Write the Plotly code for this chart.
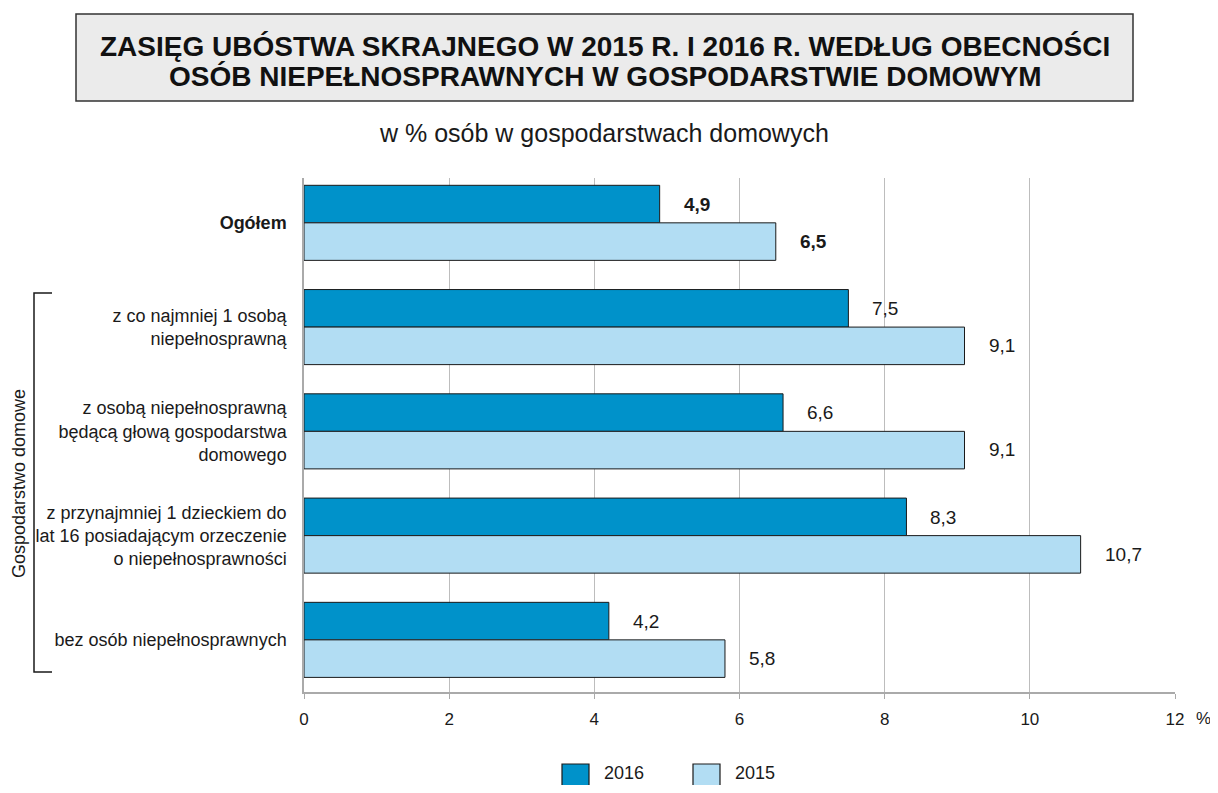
import plotly.graph_objects as go

categories = [
    "<b>Ogółem</b>",
    "z co najmniej 1 osobą<br>niepełnosprawną",
    "z osobą niepełnosprawną<br>będącą głową gospodarstwa<br>domowego",
    "z przynajmniej 1 dzieckiem do<br>lat 16 posiadającym orzeczenie<br>o niepełnosprawności",
    "bez osób niepełnosprawnych",
]
series_names = ["2016", "2015"]
values_2016 = [4.9, 7.5, 6.6, 8.3, 4.2]
values_2015 = [6.5, 9.1, 9.1, 10.7, 5.8]
x_ticks = [0, 2, 4, 6, 8, 10, 12]
title_lines = ["ZASIĘG UBÓSTWA SKRAJNEGO W 2015 R. I 2016 R. WEDŁUG OBECNOŚCI",
               "OSÓB NIEPEŁNOSPRAWNYCH W GOSPODARSTWIE DOMOWYM"]

C2016 = "#0092ca"
C2015 = "#b2ddf3"
EDGE = "#1a1a1a"
FONT = "Liberation Sans, Arial, sans-serif"

# page body has an 8px margin; reference pixel coords are used below
OFF = 8
W, H = 1218 - 2 * OFF, 793 - 2 * OFF
L, R, T, B = 304, 1175, 178, 692


def px(x):
    return (x - L) / (R - L)


def py(y):
    return (B - y) / (B - T)


fig = go.Figure()
fig.add_trace(go.Bar(y=categories, x=values_2016, name=series_names[0], orientation="h",
                     marker=dict(color=C2016, line=dict(color=EDGE, width=1))))
fig.add_trace(go.Bar(y=categories, x=values_2015, name=series_names[1], orientation="h",
                     marker=dict(color=C2015, line=dict(color=EDGE, width=1))))

annotations = []
for i, (cat, a, b) in enumerate(zip(categories, values_2016, values_2015)):
    for v, shift in ((a, 18.5), (b, -18.5)):
        txt = f"{v:.1f}".replace(".", ",")
        if i == 0:
            txt = f"<b>{txt}</b>"
        annotations.append(dict(x=v, y=cat, xref="x", yref="y", text=txt, showarrow=False,
                                xanchor="left", xshift=22, yshift=shift,
                                font=dict(family=FONT, size=19, color=EDGE)))

annotations.append(dict(x=px(1194), y=py(718), xref="paper", yref="paper", text="%",
                        showarrow=False, xanchor="left", yanchor="middle",
                        font=dict(family=FONT, size=17, color=EDGE)))
for line, yy in zip(title_lines, (46, 76)):
    annotations.append(dict(x=px(605), y=py(yy), xref="paper", yref="paper",
                            text=f"<b>{line}</b>",
                            showarrow=False, xanchor="center", yanchor="middle",
                            font=dict(family=FONT, size=28, color="#111")))
annotations.append(dict(x=px(604), y=py(133), xref="paper", yref="paper",
                        text="w % osób w gospodarstwach domowych", showarrow=False,
                        xanchor="center", yanchor="middle",
                        font=dict(family=FONT, size=25, color=EDGE)))
annotations.append(dict(x=px(19), y=py(484), xref="paper", yref="paper",
                        text="Gospodarstwo domowe", showarrow=False, textangle=-90,
                        xanchor="center", yanchor="middle",
                        font=dict(family=FONT, size=18, color=EDGE)))

shapes = [
    dict(type="rect", xref="paper", yref="paper", x0=px(76), x1=px(1133), y0=py(14), y1=py(101),
         fillcolor="#ebebeb", line=dict(color="#333", width=1.5), layer="below"),
    dict(type="path", xref="paper", yref="paper",
         path=f"M {px(52)} {py(293)} L {px(34)} {py(293)} L {px(34)} {py(672)} L {px(52)} {py(672)}",
         line=dict(color=EDGE, width=1.5)),
]

# legend drawn as swatches + labels at the bottom, as in the reference
for name, col, x0 in ((series_names[0], C2016, 562), (series_names[1], C2015, 693)):
    shapes.append(dict(type="rect", xref="paper", yref="paper", x0=px(x0), x1=px(x0 + 27),
                       y0=py(764), y1=py(790), fillcolor=col, line=dict(color=EDGE, width=1.2)))
    annotations.append(dict(x=px(x0 + 40), y=py(773), xref="paper", yref="paper", text=name,
                            showarrow=False, xanchor="left", yanchor="middle",
                            font=dict(family=FONT, size=18, color=EDGE)))

fig.update_layout(
    width=W, height=H,
    margin=dict(l=L - OFF, r=W - (R - OFF), t=T - OFF, b=H - (B - OFF), autoexpand=False),
    paper_bgcolor="white", plot_bgcolor="white",
    barmode="group", bargap=0.28, bargroupgap=0,
    font=dict(family=FONT, size=18, color=EDGE),
    showlegend=False,
    annotations=annotations,
    shapes=shapes,
)
fig.update_xaxes(range=[0, 12], tickvals=x_ticks, ticktext=[str(t) for t in x_ticks],
                 showgrid=True, gridcolor="#bdbdbd", gridwidth=1,
                 showline=True, linecolor="#aaaaaa", linewidth=1.5,
                 ticks="outside", ticklen=5, tickcolor="#aaaaaa",
                 ticklabelstandoff=6,
                 tickfont=dict(family=FONT, size=17, color=EDGE), zeroline=False)
fig.update_yaxes(categoryorder="array", categoryarray=categories,
                 range=[4.5, -0.43], showgrid=False, showline=True, linecolor="#aaaaaa",
                 linewidth=1.5, ticks="", ticklabelstandoff=12,
                 tickfont=dict(family=FONT, size=18, color=EDGE), zeroline=False)

fig.write_html("out.html")
